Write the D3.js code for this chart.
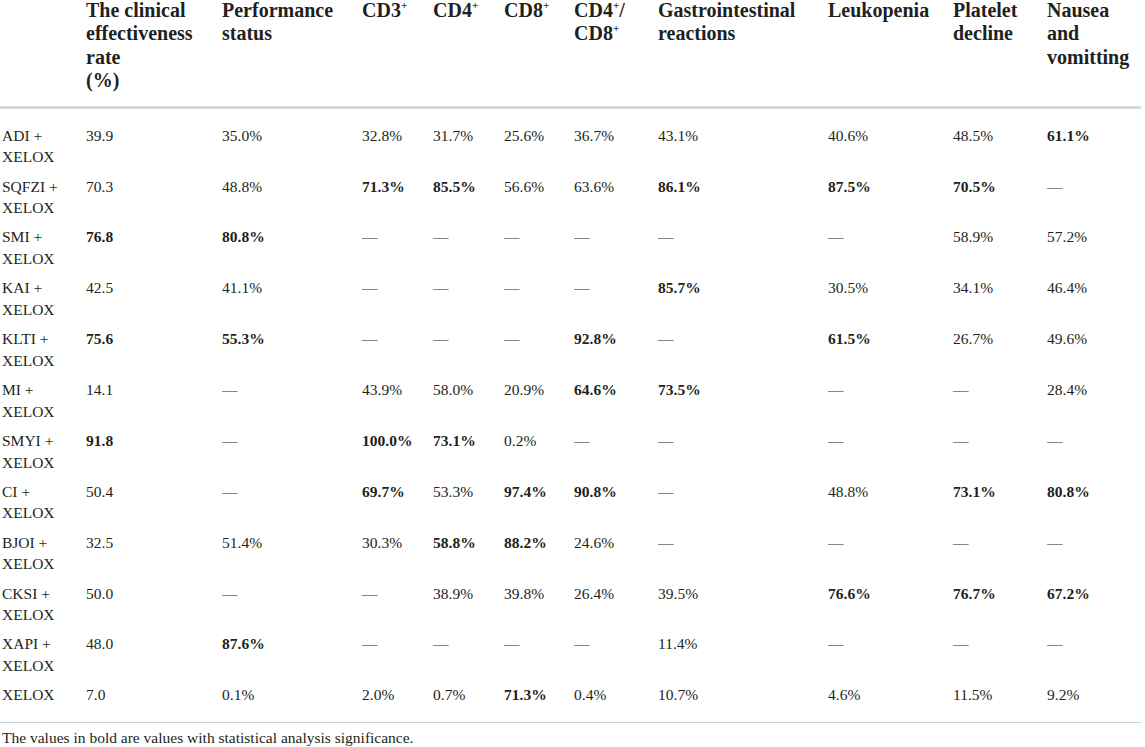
<!DOCTYPE html>
<html>
<head>
<meta charset="utf-8">
<script src="https://cdn.jsdelivr.net/npm/d3@7/dist/d3.min.js"></script>
<style>
  body { margin: 0; background: #fff; }
  svg text { font-family: "Liberation Serif", "Times New Roman", serif; fill: #231f20; }
  .head { font-size: 20px; font-weight: bold; }
  .cell { font-size: 15.5px; }
  .cell.sig { font-weight: bold; }
  .note { font-size: 15.5px; }
</style>
</head>
<body>
<svg id="chart" width="1145" height="747"></svg>
<script>
  // rows (treatment groups)
  var groups = [ "ADI", "SQFZI", "SMI", "KAI", "KLTI", "MI", "SMYI", "CI", "BJOI", "CKSI", "XAPI", "XELOX" ];

  // header lines, each line a list of [text, superscript] parts
  var headers = [
    [ [ [ "The clinical" ] ], [ [ "effectiveness" ] ], [ [ "rate" ] ], [ [ "(%)" ] ] ],
    [ [ [ "Performance" ] ], [ [ "status" ] ] ],
    [ [ [ "CD3", "+" ] ] ],
    [ [ [ "CD4", "+" ] ] ],
    [ [ [ "CD8", "+" ] ] ],
    [ [ [ "CD4", "+" ], [ "/" ] ], [ [ "CD8", "+" ] ] ],
    [ [ [ "Gastrointestinal" ] ], [ [ "reactions" ] ] ],
    [ [ [ "Leukopenia" ] ] ],
    [ [ [ "Platelet" ] ], [ [ "decline" ] ] ],
    [ [ [ "Nausea" ] ], [ [ "and" ] ], [ [ "vomitting" ] ] ]
  ];

  // values per column, null = not reported
  var effectiveness = [ 39.9, 70.3, 76.8, 42.5, 75.6, 14.1, 91.8, 50.4, 32.5, 50.0, 48.0, 7.0 ];
  var performance   = [ 35.0, 48.8, 80.8, 41.1, 55.3, null, null, null, 51.4, null, 87.6, 0.1 ];
  var cd3           = [ 32.8, 71.3, null, null, null, 43.9, 100.0, 69.7, 30.3, null, null, 2.0 ];
  var cd4           = [ 31.7, 85.5, null, null, null, 58.0, 73.1, 53.3, 58.8, 38.9, null, 0.7 ];
  var cd8           = [ 25.6, 56.6, null, null, null, 20.9, 0.2, 97.4, 88.2, 39.8, null, 71.3 ];
  var cd4cd8        = [ 36.7, 63.6, null, null, 92.8, 64.6, null, 90.8, 24.6, 26.4, null, 0.4 ];
  var gastro        = [ 43.1, 86.1, null, 85.7, null, 73.5, null, null, null, 39.5, 11.4, 10.7 ];
  var leukopenia    = [ 40.6, 87.5, null, 30.5, 61.5, null, null, 48.8, null, 76.6, null, 4.6 ];
  var platelet      = [ 48.5, 70.5, 58.9, 34.1, 26.7, null, null, 73.1, null, 76.7, null, 11.5 ];
  var nausea        = [ 61.1, null, 57.2, 46.4, 49.6, 28.4, null, 80.8, null, 67.2, null, 9.2 ];

  // significant (bold) flags per column
  var sigEffectiveness = [ 0, 0, 1, 0, 1, 0, 1, 0, 0, 0, 0, 0 ];
  var sigPerformance   = [ 0, 0, 1, 0, 1, 0, 0, 0, 0, 0, 1, 0 ];
  var sigCd3           = [ 0, 1, 0, 0, 0, 0, 1, 1, 0, 0, 0, 0 ];
  var sigCd4           = [ 0, 1, 0, 0, 0, 0, 1, 0, 1, 0, 0, 0 ];
  var sigCd8           = [ 0, 0, 0, 0, 0, 0, 0, 1, 1, 0, 0, 1 ];
  var sigCd4cd8        = [ 0, 0, 0, 0, 1, 1, 0, 1, 0, 0, 0, 0 ];
  var sigGastro        = [ 0, 1, 0, 1, 0, 1, 0, 0, 0, 0, 0, 0 ];
  var sigLeukopenia    = [ 0, 1, 0, 0, 1, 0, 0, 0, 0, 1, 0, 0 ];
  var sigPlatelet      = [ 0, 1, 0, 0, 0, 0, 0, 1, 0, 1, 0, 0 ];
  var sigNausea        = [ 1, 0, 0, 0, 0, 0, 0, 1, 0, 1, 0, 0 ];

  var footnote = "The values in bold are values with statistical analysis significance.";

  var columns = [
    { values: effectiveness, sig: sigEffectiveness, pct: false },
    { values: performance, sig: sigPerformance, pct: true },
    { values: cd3, sig: sigCd3, pct: true },
    { values: cd4, sig: sigCd4, pct: true },
    { values: cd8, sig: sigCd8, pct: true },
    { values: cd4cd8, sig: sigCd4cd8, pct: true },
    { values: gastro, sig: sigGastro, pct: true },
    { values: leukopenia, sig: sigLeukopenia, pct: true },
    { values: platelet, sig: sigPlatelet, pct: true },
    { values: nausea, sig: sigNausea, pct: true }
  ];

  // layout
  var colX = [ 2, 86, 222, 362, 433, 504, 574, 658, 828, 953, 1047 ];
  var headTop = 17, headLine = 23.4, cellLine = 21.6;

  var svg = d3.select( "#chart" );
  var fmt = d3.format( ".1f" );

  var x = d3.scaleOrdinal().domain( d3.range( colX.length ) ).range( colX );
  var y = d3.scalePoint().domain( groups ).range( [ 140.7, 700.3 ] );

  // header
  var head = svg.append( "g" );
  headers.forEach( function( lines , c ) {
    var t = head.append( "text" ).attr( "class", "head" );
    lines.forEach( function( parts , li ) {
      var raised = false;
      parts.forEach( function( p , pi ) {
        var s = t.append( "tspan" ).text( p[0] );
        if( pi === 0 ) s.attr( "x", x( c + 1 ) ).attr( "y", headTop + li * headLine );
        else if( raised ) s.attr( "dy", 8 );
        raised = false;
        if( p[1] ) {
          t.append( "tspan" ).attr( "dy", -8 ).style( "font-size", "11px" ).text( p[1] );
          raised = true;
        }
      } );
    } );
  } );

  svg.append( "line" ).attr( "x1", 0 ).attr( "x2", 1141 ).attr( "y1", 107.5 ).attr( "y2", 107.5 )
     .attr( "stroke", "#d2d2d2" ).attr( "stroke-width", 2.5 );

  // row labels
  var rowG = svg.append( "g" ).selectAll( "g" ).data( groups ).join( "g" )
    .attr( "transform", function( d ) { return "translate(0," + y( d ) + ")"; } );

  rowG.append( "text" ).attr( "class", "cell" ).each( function( d ) {
    var t = d3.select( this );
    if( d === "XELOX" ) {
      t.append( "tspan" ).attr( "x", x( 0 ) ).attr( "y", 0 ).text( "XELOX" );
    } else {
      t.append( "tspan" ).attr( "x", x( 0 ) ).attr( "y", 0 ).text( d + " +" );
      t.append( "tspan" ).attr( "x", x( 0 ) ).attr( "y", cellLine ).text( "XELOX" );
    }
  } );

  // value cells
  columns.forEach( function( col , c ) {
    rowG.append( "text" )
      .attr( "class", function( d , i ) { return col.sig[i] ? "cell sig" : "cell"; } )
      .attr( "x", x( c + 1 ) )
      .text( function( d , i ) {
        var v = col.values[i];
        if( v === null ) return "\u2014";
        return fmt( v ) + ( col.pct ? "%" : "" );
      } );
  } );

  svg.append( "line" ).attr( "x1", 0 ).attr( "x2", 1141 ).attr( "y1", 722.5 ).attr( "y2", 722.5 )
     .attr( "stroke", "#cfcfcf" ).attr( "stroke-width", 1.2 );

  svg.append( "text" ).attr( "class", "note" ).attr( "x", 2 ).attr( "y", 743 ).text( footnote );
</script>
</body>
</html>
